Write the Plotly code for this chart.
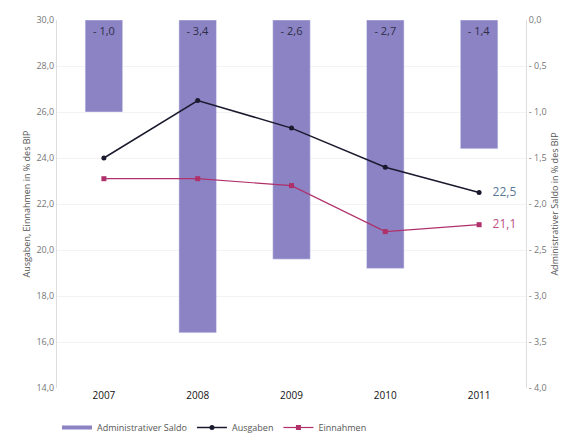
import plotly.graph_objects as go

years = ["2007", "2008", "2009", "2010", "2011"]
saldo = [-1.0, -3.4, -2.6, -2.7, -1.4]
saldo_labels = ["- 1,0", "- 3,4", "- 2,6", "- 2,7", "- 1,4"]
ausgaben = [24.0, 26.5, 25.3, 23.6, 22.5]
einnahmen = [23.1, 23.1, 22.8, 20.8, 21.1]
ausgaben_labels = ["", "", "", "", "22,5"]
einnahmen_labels = ["", "", "", "", "21,1"]

left_ticks = [14, 16, 18, 20, 22, 24, 26, 28, 30]
left_ticktext = ["14,0", "16,0", "18,0", "20,0", "22,0", "24,0", "26,0", "28,0", "30,0"]
right_ticks = [0, -0.5, -1, -1.5, -2, -2.5, -3, -3.5, -4]
right_ticktext = ["0,0", "- 0,5", "- 1,0", "- 1,5", "- 2,0", "- 2,5", "- 3,0", "- 3,5", "- 4,0"]

bar_color = "#8b83c4"
aus_color = "#1a1a2e"
ein_color = "#b0306a"
font_family = "Open Sans, DejaVu Sans, sans-serif"

fig = go.Figure()
fig.add_trace(go.Bar(
    x=years, y=saldo, name="Administrativer Saldo", marker_color=bar_color,
    width=0.4, yaxis="y", text=saldo_labels, textposition="inside",
    insidetextanchor="start", textfont=dict(color="#2e2e48", size=11, family=font_family),
    hoverinfo="skip", showlegend=False,
))
# legend proxy for the bar series (short thick line like the reference)
fig.add_trace(go.Scatter(
    x=[None], y=[None], name="Administrativer Saldo", mode="lines", yaxis="y",
    line=dict(color=bar_color, width=4),
))
fig.add_trace(go.Scatter(
    x=years, y=ausgaben, name="Ausgaben", mode="lines+markers+text", yaxis="y2",
    line=dict(color=aus_color, width=1.5), marker=dict(color=aus_color, size=5),
    text=["   " + t if t else t for t in ausgaben_labels], textposition="middle right",
    textfont=dict(color="#5a7896", size=12, family=font_family), cliponaxis=False,
))
fig.add_trace(go.Scatter(
    x=years, y=einnahmen, name="Einnahmen", mode="lines+markers+text", yaxis="y2",
    line=dict(color=ein_color, width=1.2), marker=dict(color=ein_color, size=5, symbol="square"),
    text=["   " + t if t else t for t in einnahmen_labels], textposition="middle right",
    textfont=dict(color="#c0507f", size=12, family=font_family), cliponaxis=False,
))

fig.update_layout(
    width=581, height=442,
    margin=dict(l=57, r=55, t=20, b=54, autoexpand=False),
    paper_bgcolor="white", plot_bgcolor="white",
    font=dict(family=font_family, size=9, color="#777777"),
    bargap=0.6,
    showlegend=True,
    legend=dict(orientation="h", x=0.0, xref="paper", y=0.0, yref="container",
                xanchor="left", yanchor="bottom",
                font=dict(size=9, color="#555555"), traceorder="normal",
                itemwidth=30, tracegroupgap=0),
    xaxis=dict(type="category", range=[-0.5, 4.5], showgrid=False, showline=False,
               ticks="", tickfont=dict(size=10, color="#111111", family=font_family)),
    yaxis=dict(side="right", range=[-4, 0], tickvals=right_ticks, ticktext=right_ticktext,
               showgrid=False, showline=True, linecolor="#dddddd", linewidth=1, zeroline=False,
               ticks="", tickfont=dict(size=9, color="#777777"),
               title=dict(text="Administrativer Saldo in % des BIP", font=dict(size=9, color="#555555"),
                          standoff=6)),
    yaxis2=dict(side="left", overlaying="y", range=[14, 30], tickvals=left_ticks, ticktext=left_ticktext,
                showgrid=True, gridcolor="#f3f3f3", showline=True, linecolor="#dddddd", linewidth=1,
                zeroline=False, ticks="", tickfont=dict(size=9, color="#777777"),
                title=dict(text="Ausgaben, Einnahmen in % des BIP", font=dict(size=9, color="#555555"),
                           standoff=4)),
)

fig.write_html("out.html")
